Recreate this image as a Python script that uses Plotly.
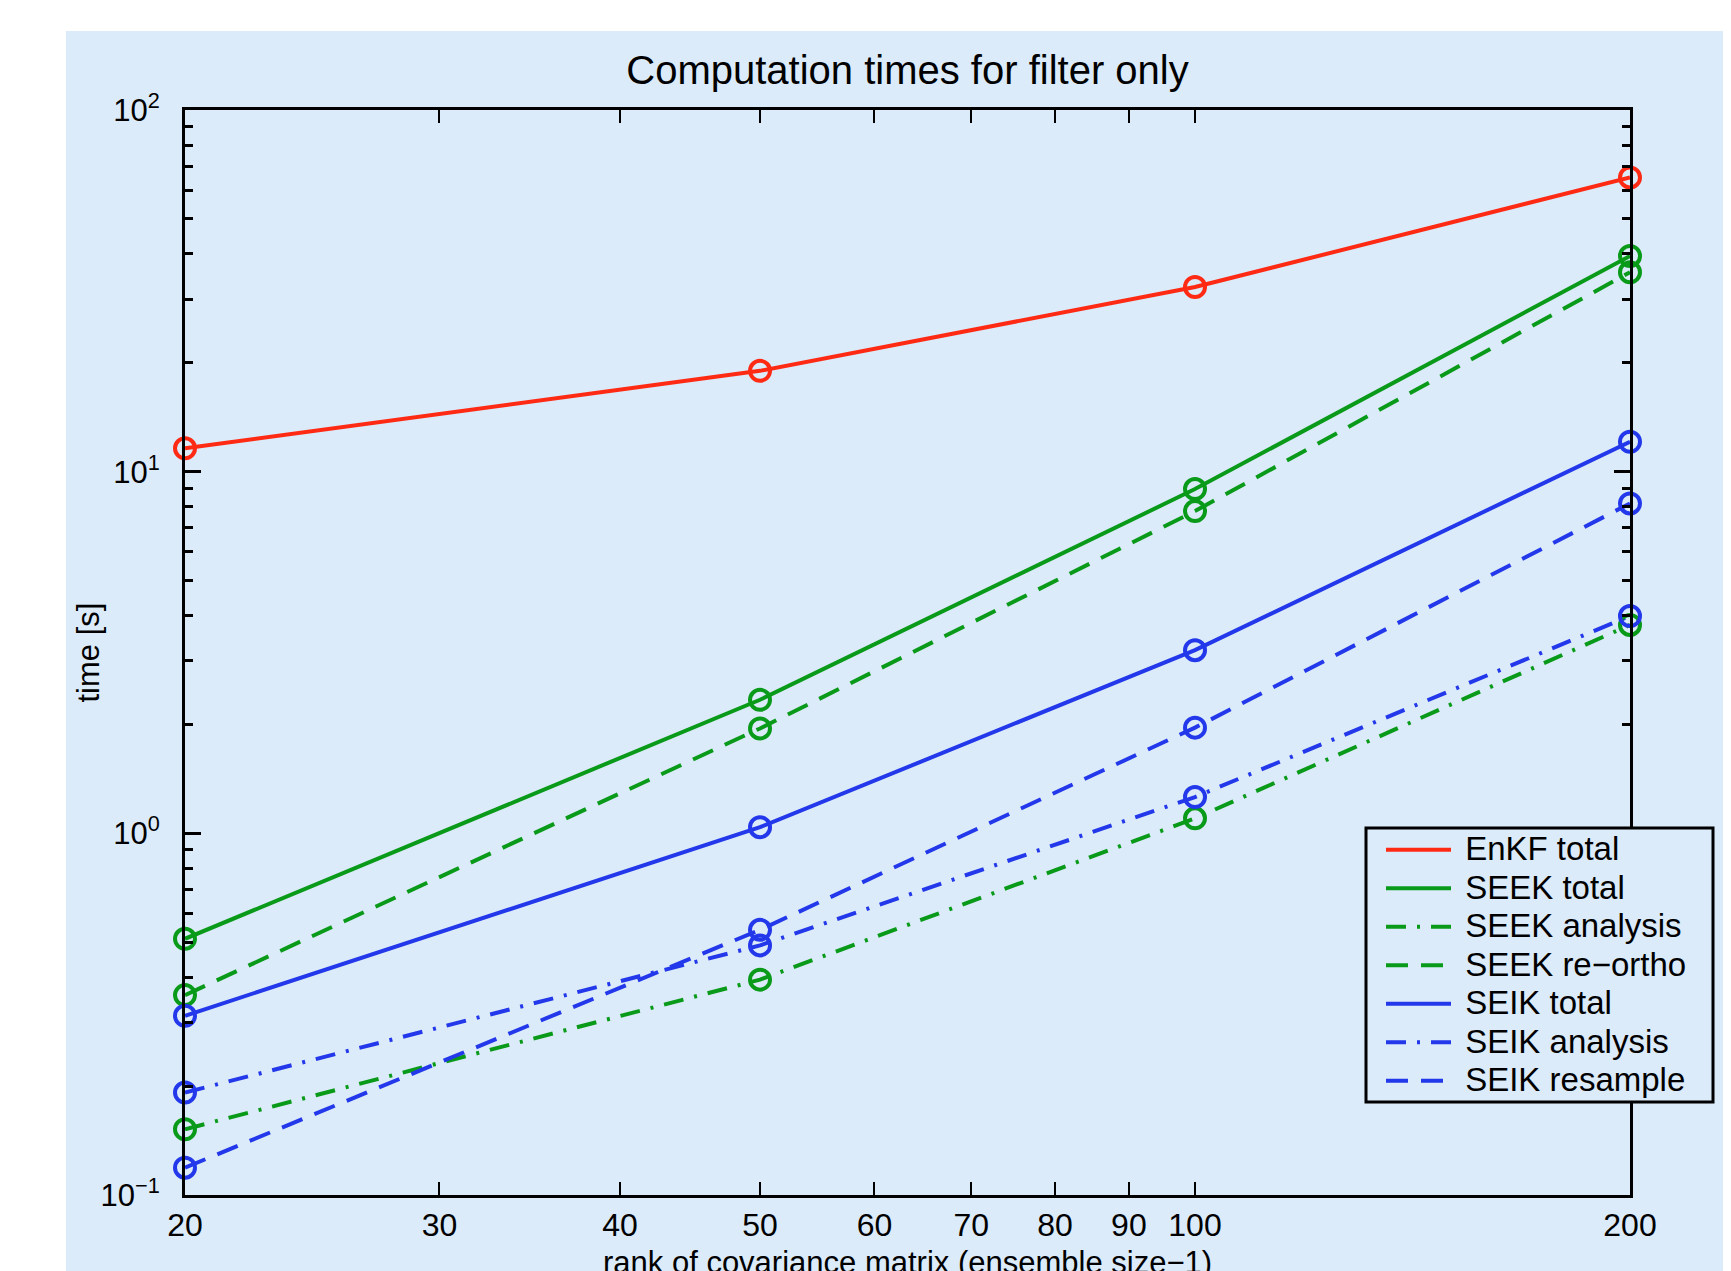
import math
import plotly.graph_objects as go

# ---- data ----
rank = [20, 50, 100, 200]
enkf_total = [11.6, 19.0, 32.4, 65.1]
seek_total = [0.511, 2.34, 8.95, 39.5]
seek_analysis = [0.152, 0.394, 1.10, 3.77]
seek_reortho = [0.357, 1.95, 7.78, 35.6]
seik_total = [0.313, 1.04, 3.21, 12.1]
seik_analysis = [0.192, 0.490, 1.26, 3.99]
seik_resample = [0.119, 0.541, 1.96, 8.17]

x_ticks = [20, 30, 40, 50, 60, 70, 80, 90, 100, 200]
y_ticks = [0.1, 1, 10, 100]
y_ticktext = ["10<sup>\u22121</sup>", "10<sup>0</sup>", "10<sup>1</sup>", "10<sup>2</sup>"]

RED = "#ff2a14"
GREEN = "#0a9a1a"
BLUE = "#2238ea"
BG = "#dbebf9"
FONT = "Liberation Sans, Arial, Helvetica, sans-serif"

DASH = "22px,13px"
DASHDOT = "20px,11px,3px,11px"

series = [
    ("EnKF total", enkf_total, RED, "solid"),
    ("SEEK total", seek_total, GREEN, "solid"),
    ("SEEK analysis", seek_analysis, GREEN, DASHDOT),
    ("SEEK re\u2212ortho", seek_reortho, GREEN, DASH),
    ("SEIK total", seik_total, BLUE, "solid"),
    ("SEIK analysis", seik_analysis, BLUE, DASHDOT),
    ("SEIK resample", seik_resample, BLUE, DASH),
]

LEG_PX = 33  # legend text size

fig = go.Figure()
for name, vals, col, dash in series:
    fig.add_trace(go.Scatter(
        x=rank, y=vals, mode="lines",
        name='<span style="font-size:%dpx">\u00a0%s</span>' % (LEG_PX, name),
        line=dict(color=col, width=4, dash=dash),
    ))
for name, vals, col, dash in series:
    fig.add_trace(go.Scatter(
        x=rank, y=vals, mode="markers", showlegend=False, cliponaxis=False,
        marker=dict(symbol="circle-open", size=20, color=col, line=dict(width=4, color=col)),
    ))

# page is offset by the 8px body margin
W, H = 1723, 1263
L, T = 177, 102
pw, ph = 1445, 1085
R = W - L - pw
B = H - T - ph
bottom = T + ph


def px(x):
    return (x - L) / pw


def py(y):
    return (bottom - y) / ph


# light-blue figure background
fig.add_shape(type="rect", xref="paper", yref="paper", layer="below",
              x0=px(58), x1=px(W + 5), y0=py(H + 5), y1=py(23),
              fillcolor=BG, line=dict(width=0))
# legend frame
fig.add_shape(type="rect", xref="paper", yref="paper", layer="above",
              x0=px(1358), x1=px(1705), y0=py(1094), y1=py(820),
              fillcolor=BG, line=dict(width=3, color="black"))

fig.update_layout(
    width=W, height=H,
    margin=dict(l=L, r=R, t=T, b=B, autoexpand=False),
    paper_bgcolor="white", plot_bgcolor=BG,
    font=dict(family=FONT, size=31, color="black"),
    title=dict(text="Computation times for filter only", x=0.5, xref="paper",
               y=1 - 62 / H, yref="container", yanchor="middle", xanchor="center",
               font=dict(size=40, family=FONT, color="black")),
    showlegend=True,
    legend=dict(x=px(1373), y=py(817.5), xanchor="left", yanchor="top",
                bgcolor="rgba(0,0,0,0)", borderwidth=0,
                font=dict(size=27.3, family=FONT, color="black"),
                tracegroupgap=0, itemwidth=65),
    annotations=[
        dict(text="time [s]", xref="paper", yref="paper", x=px(80), y=0.5,
             xanchor="center", yanchor="middle", textangle=-90, showarrow=False,
             font=dict(size=31, family=FONT, color="black")),
        dict(text="rank of covariance matrix (ensemble size\u22121)", xref="paper", yref="paper",
             x=0.5, y=py(1254), xanchor="center", yanchor="middle", showarrow=False,
             font=dict(size=31, family=FONT, color="black")),
    ],
)

EPS = 1e-7
fig.update_xaxes(
    type="log", range=[math.log10(20) - EPS, math.log10(200) + EPS],
    tickmode="array", tickvals=x_ticks, ticktext=[str(v) for v in x_ticks],
    ticks="inside", ticklen=13, tickwidth=2, tickcolor="black",
    showline=True, linecolor="black", linewidth=3, mirror="ticks",
    showgrid=False, zeroline=False, automargin=False,
    ticklabelstandoff=0,
    tickfont=dict(size=32, family=FONT),
)
fig.update_yaxes(
    type="log", range=[-1 - EPS, 2 + EPS],
    tickmode="array", tickvals=y_ticks, ticktext=y_ticktext,
    ticks="inside", ticklen=16, tickwidth=2.5, tickcolor="black",
    minor=dict(ticks="inside", ticklen=8, tickwidth=2.5, tickcolor="black", showgrid=False,
               tickvals=[v * d for d in (0.1, 1, 10) for v in range(2, 10)]),
    showline=True, linecolor="black", linewidth=3, mirror="ticks",
    showgrid=False, zeroline=False, automargin=False,
    ticklabelstandoff=16,
    tickfont=dict(size=31, family=FONT),
)

fig.write_html("out.html")
